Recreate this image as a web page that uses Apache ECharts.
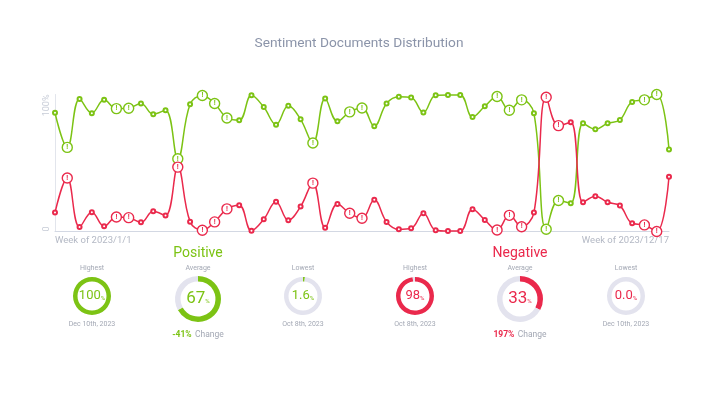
<!DOCTYPE html>
<html>
<head>
<meta charset="utf-8">
<script src="https://cdn.jsdelivr.net/npm/echarts@6/dist/echarts.min.js"></script>
<style>
  html, body { margin: 0; padding: 0; background: #fff; }
  #chart { width: 718px; height: 398px; }
</style>
</head>
<body>
<div id="chart"></div>
<script>
var weeks = ['2023/1/1', '2023/1/8', '2023/1/15', '2023/1/22', '2023/1/29',
  '2023/2/5', '2023/2/12', '2023/2/19', '2023/2/26',
  '2023/3/5', '2023/3/12', '2023/3/19', '2023/3/26',
  '2023/4/2', '2023/4/9', '2023/4/16', '2023/4/23', '2023/4/30',
  '2023/5/7', '2023/5/14', '2023/5/21', '2023/5/28',
  '2023/6/4', '2023/6/11', '2023/6/18', '2023/6/25',
  '2023/7/2', '2023/7/9', '2023/7/16', '2023/7/23', '2023/7/30',
  '2023/8/6', '2023/8/13', '2023/8/20', '2023/8/27',
  '2023/9/3', '2023/9/10', '2023/9/17', '2023/9/24',
  '2023/10/1', '2023/10/8', '2023/10/15', '2023/10/22', '2023/10/29',
  '2023/11/5', '2023/11/12', '2023/11/19', '2023/11/26',
  '2023/12/3', '2023/12/10', '2023/12/17'];

var positive = [86.6, 61.4, 96.8, 86.4, 96.1, 89.7, 90.0, 93.4, 85.6, 88.5,
  53.1, 92.9, 99.3, 93.4, 82.9, 81.2, 99.5, 90.8, 78.0, 91.7,
  81.9, 64.6, 97.1, 80.4, 87.3, 90.2, 76.8, 93.4, 98.3, 97.8,
  86.8, 99.5, 99.7, 99.7, 83.6, 91.4, 98.5, 88.5, 96.1, 86.3,
  1.6, 22.6, 20.6, 79.0, 74.6, 79.0, 81.4, 94.6, 96.1, 100, 59.9];

var negative = [13.8, 39.0, 3.3, 14.1, 3.8, 10.6, 10.1, 6.7, 14.8, 11.6,
  47.0, 7.2, 0.9, 7.0, 16.5, 19.2, 0.6, 8.9, 21.8, 8.2,
  18.2, 35.3, 2.8, 20.1, 13.3, 9.7, 23.1, 7.0, 1.6, 2.3,
  13.3, 0.9, 0.3, 0.3, 16.3, 8.4, 1.1, 11.8, 3.5, 13.8,
  98, 77.3, 79.7, 21.3, 25.8, 21.3, 18.9, 6.0, 4.8, 0, 40.0];

// weeks flagged with the "!" marker
var anomalies = [1, 5, 6, 10, 12, 13, 14, 21, 24, 25, 36, 37, 38, 40, 41, 48, 49];

// summary donuts: [label, value, text, date]
var posStats = [['Highest', 100, '100', 'Dec 10th, 2023'], ['Average', 67, '67', ''], ['Lowest', 1.6, '1.6', 'Oct 8th, 2023']];
var negStats = [['Highest', 98, '98', 'Oct 8th, 2023'], ['Average', 33, '33', ''], ['Lowest', 0, '0.0', 'Dec 10th, 2023']];
var posChange = '-41%';
var negChange = '197%';

var GREEN = '#7cc314';
var RED = '#ea294c';
var TRACK = '#e3e3ee';
var FONT = 'Roboto, "Noto Sans", sans-serif';

var markData = function (values, color) {
  return values.map(function (v, i) {
    if (anomalies.indexOf(i) < 0) return v;
    return {
      value: v,
      symbol: 'circle',
      symbolSize: 10,
      itemStyle: { color: '#fff', borderColor: color, borderWidth: 1.4 },
      label: {
        show: true, position: 'inside', formatter: '!',
        color: color, fontSize: 7, fontWeight: 'bold', fontFamily: FONT
      }
    };
  });
};

var lineSeries = function (name, values, color) {
  return {
    name: name,
    type: 'line',
    smooth: 0.4,
    data: markData(values, color),
    symbol: 'emptyCircle',
    symbolSize: 4,
    showAllSymbol: true,
    lineStyle: { color: color, width: 1.5 },
    itemStyle: { color: color, borderColor: color, borderWidth: 1 },
    emphasis: { disabled: true },
    z: 3
  };
};

var donut = function (stat, cx, cy, big, color) {
  var rOut = big ? 23 : 19;
  var rIn = big ? 17.5 : 14.5;
  return {
    type: 'pie',
    silent: true,
    center: [cx, cy],
    radius: [rIn, rOut],
    startAngle: 90,
    clockwise: true,
    labelLine: { show: false },
    data: [
      {
        value: stat[1],
        itemStyle: { color: color },
        label: {
          show: true, position: 'center',
          formatter: '{v|' + stat[2] + '}{p|%}',
          rich: {
            v: { fontSize: big ? 17 : 13, color: color, fontFamily: FONT },
            p: { fontSize: 6, color: color, fontFamily: FONT, padding: [big ? 5 : 4, 0, 0, 0] }
          }
        }
      },
      { value: 100 - stat[1], itemStyle: { color: TRACK }, label: { show: false } }
    ]
  };
};

var text = function (str, x, y, size, color) {
  return {
    type: 'text', x: x, y: y, silent: true,
    style: {
      text: str, fill: color, fontSize: size, fontFamily: FONT,
      align: 'center', verticalAlign: 'middle'
    }
  };
};

var posX = [92, 198, 303];
var negX = [415, 520, 626];
var series = [lineSeries('Positive', positive, GREEN), lineSeries('Negative', negative, RED)];
var graphics = [
  text('Sentiment Documents Distribution', 359, 44, 13.7, '#8b94a9'),
  text('Positive', 198, 253, 14, GREEN),
  text('Negative', 520, 253, 14, RED)
];

[[posStats, posX, GREEN, posChange], [negStats, negX, RED, negChange]].forEach(function (grp) {
  grp[0].forEach(function (s, i) {
    var big = s[0] === 'Average';
    series.push(donut(s, grp[1][i], big ? 299 : 296, big, grp[2]));
    graphics.push(text(s[0], grp[1][i], 268, 7, '#a3a8b4'));
    if (s[3]) graphics.push(text(s[3], grp[1][i], 324, 7, '#a3a8b4'));
  });
  graphics.push({
    type: 'text', x: grp[1][1], y: 335, silent: true,
    style: {
      text: '{a|' + grp[3] + '} {b|Change}',
      align: 'center', verticalAlign: 'middle',
      rich: {
        a: { fontSize: 8.5, fontWeight: 'bold', fill: grp[2], fontFamily: FONT },
        b: { fontSize: 8.5, fill: '#a3a8b4', fontFamily: FONT }
      }
    }
  });
});

var chart = echarts.init(document.getElementById('chart'), null, { renderer: 'canvas' });
chart.setOption({
  animation: false,
  backgroundColor: '#fff',
  grid: { left: 55, right: 49, top: 94.5, bottom: 166.5, containLabel: false },
  xAxis: {
    type: 'category',
    data: weeks,
    boundaryGap: false,
    axisLine: { lineStyle: { color: '#d3d8e3', width: 1 } },
    axisTick: { show: false },
    splitLine: { show: false },
    axisLabel: {
      interval: function (i) { return i === 0 || i === weeks.length - 1; },
      formatter: function (v) { return 'Week of ' + v; },
      alignMinLabel: 'left',
      alignMaxLabel: 'right',
      color: '#b3b8c4', fontSize: 9.5, fontFamily: FONT, margin: 4
    }
  },
  yAxis: {
    type: 'value',
    min: 0,
    max: 100,
    interval: 100,
    axisLine: { show: true, lineStyle: { color: '#e2e5ec', width: 1 } },
    axisTick: { show: false },
    splitLine: { show: false },
    axisLabel: {
      rotate: 90,
      formatter: function (v) { return v === 100 ? '100%' : '0'; },
      alignMinLabel: 'left',
      alignMaxLabel: 'right',
      color: '#c7ccd7', fontSize: 9, fontFamily: FONT, margin: 4
    }
  },
  series: series,
  graphic: graphics
});
</script>
</body>
</html>
